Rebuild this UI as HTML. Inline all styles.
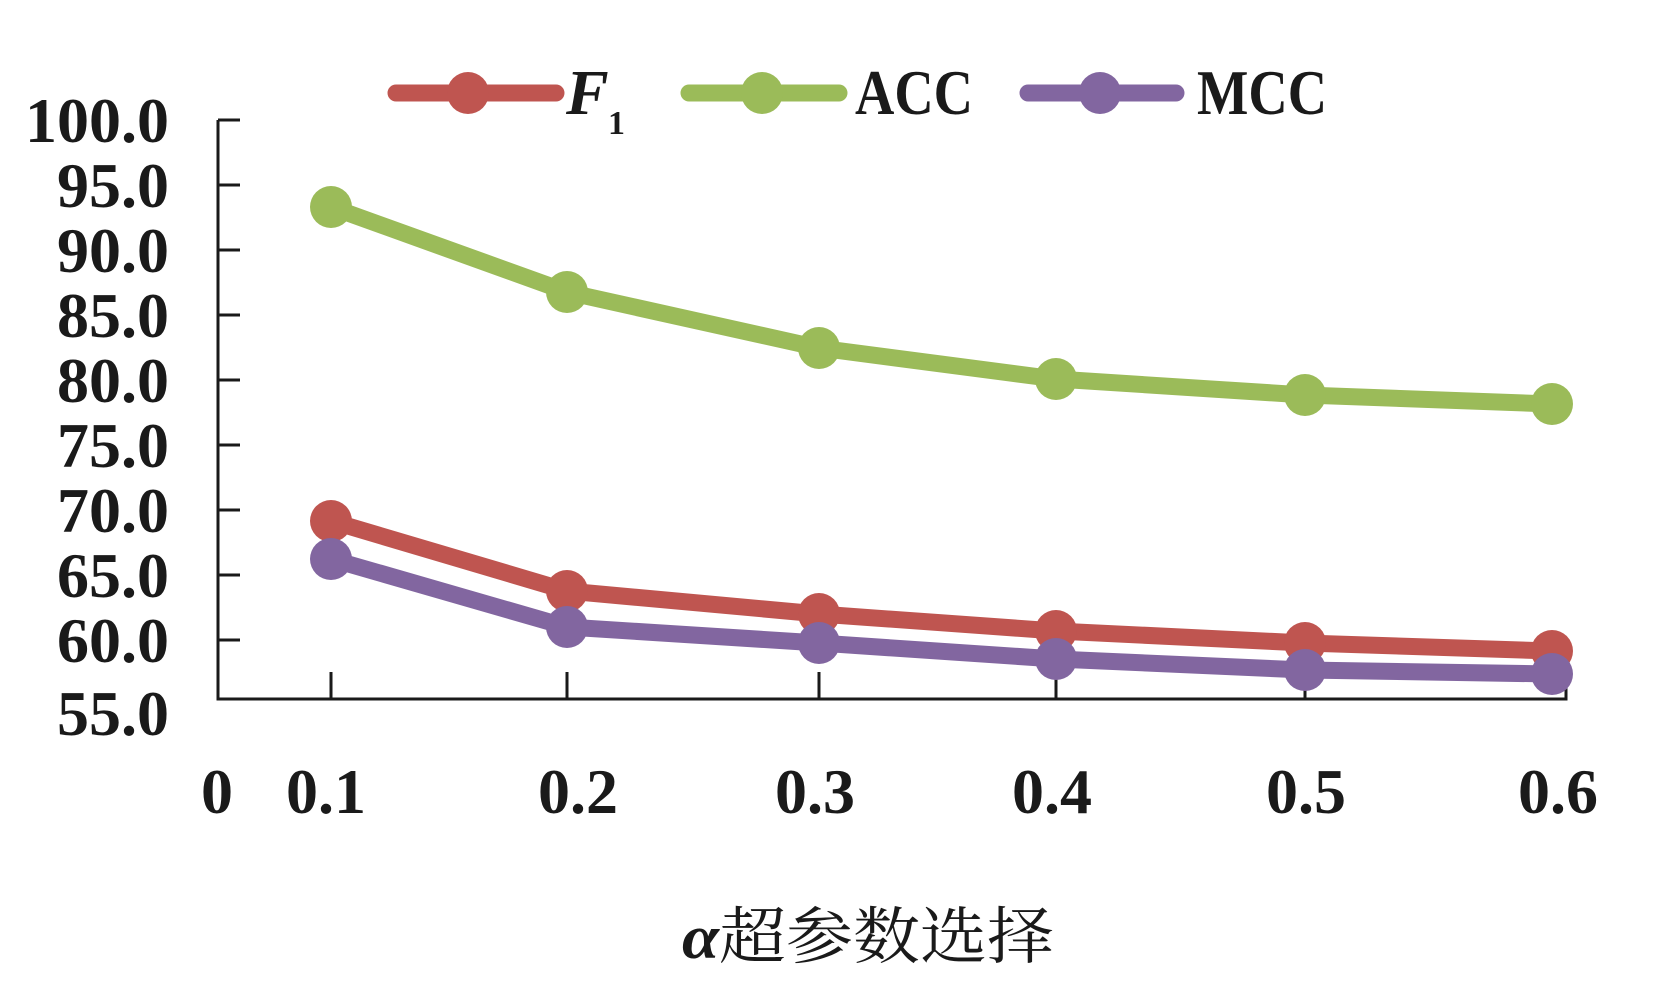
<!DOCTYPE html>
<html><head><meta charset="utf-8"><style>html,body{margin:0;padding:0;background:#fff}svg{display:block}</style></head>
<body>
<svg width="1675" height="998" viewBox="0 0 1675 998" xmlns="http://www.w3.org/2000/svg" font-family="'Liberation Serif','Noto Serif CJK SC',serif" font-weight="bold" fill="#1a1a1a">
<g stroke="#1a1a1a" stroke-width="3" fill="none">
<path d="M218 120 V699 H1566 V672"/>
<path d="M218 120 H240 M218 185 H240 M218 250 H240 M218 315 H240 M218 380 H240 M218 445 H240 M218 510 H240 M218 575 H240 M218 640 H240"/>
<path d="M331 699 V672 M567 699 V672 M819 699 V672 M1056 699 V672 M1305 699 V672"/>
</g>
<g font-size="64" text-anchor="end">
<text x="169" y="142">100.0</text><text x="169" y="207">95.0</text><text x="169" y="272">90.0</text><text x="169" y="337">85.0</text><text x="169" y="402">80.0</text><text x="169" y="467">75.0</text><text x="169" y="532">70.0</text><text x="169" y="597">65.0</text><text x="169" y="662">60.0</text><text x="169" y="735">55.0</text>
</g>
<g font-size="64" text-anchor="middle">
<text x="217" y="813">0</text><text x="326" y="813">0.1</text><text x="578" y="813">0.2</text><text x="815" y="813">0.3</text><text x="1052" y="813">0.4</text><text x="1306" y="813">0.5</text><text x="1558" y="813">0.6</text>
</g>
<g stroke-width="17" stroke-linecap="round" stroke-linejoin="round" fill="none">
<polyline stroke="#9bbb59" points="331,207 567,292 819,348 1056,379 1305,395 1552,404"/>
<polyline stroke="#bf5550" points="331,521 567,591 819,614 1056,631 1305,643 1552,651"/>
<polyline stroke="#8266a0" points="331,559 567,627 819,643 1056,659 1305,670 1552,674"/>
<line stroke="#bf5550" x1="396" y1="93" x2="556" y2="93"/>
<line stroke="#9bbb59" x1="689" y1="93" x2="839" y2="93"/>
<line stroke="#8266a0" x1="1028" y1="93" x2="1176" y2="93"/>
</g>
<g fill="#9bbb59"><circle cx="331" cy="207" r="21"/><circle cx="567" cy="292" r="21"/><circle cx="819" cy="348" r="21"/><circle cx="1056" cy="379" r="21"/><circle cx="1305" cy="395" r="21"/><circle cx="1552" cy="404" r="21"/><circle cx="762" cy="93" r="21"/></g>
<g fill="#bf5550"><circle cx="331" cy="521" r="21"/><circle cx="567" cy="591" r="21"/><circle cx="819" cy="614" r="21"/><circle cx="1056" cy="631" r="21"/><circle cx="1305" cy="643" r="21"/><circle cx="1552" cy="651" r="21"/><circle cx="468" cy="93" r="21"/></g>
<g fill="#8266a0"><circle cx="331" cy="559" r="21"/><circle cx="567" cy="627" r="21"/><circle cx="819" cy="643" r="21"/><circle cx="1056" cy="659" r="21"/><circle cx="1305" cy="670" r="21"/><circle cx="1552" cy="674" r="21"/><circle cx="1100" cy="93" r="21"/></g>
<g font-size="64">
<text x="566" y="114" font-style="italic">F</text><text x="608" y="134" font-size="34">1</text>
<text x="855" y="114" textLength="118" lengthAdjust="spacingAndGlyphs">ACC</text>
<text x="1197" y="114" textLength="130" lengthAdjust="spacingAndGlyphs">MCC</text>
</g>
<text x="682" y="958" font-size="62" textLength="372" lengthAdjust="spacingAndGlyphs"><tspan font-style="italic">α</tspan><tspan font-weight="normal">超参数选择</tspan></text>
</svg>
</body></html>
